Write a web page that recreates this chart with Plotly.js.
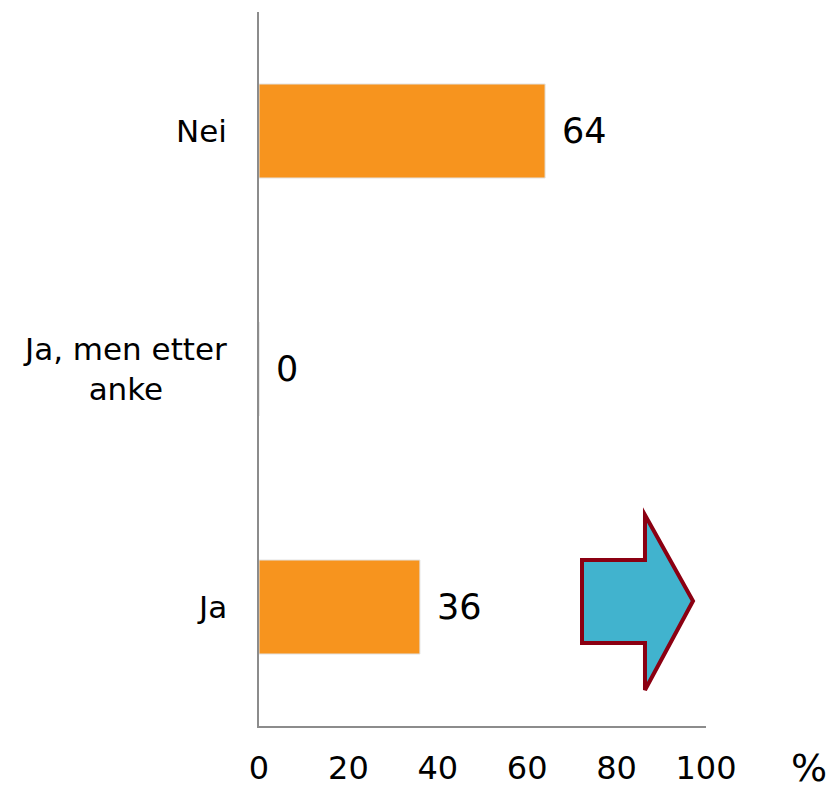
<!DOCTYPE html>
<html>
<head>
<meta charset="utf-8">
<script src="https://cdn.plot.ly/plotly-3.0.1.min.js"></script>
<style>html,body{margin:0;padding:0;background:#fff;}</style>
</head>
<body>
<div id="chart" style="width:834px;height:792px;"></div>
<script>
const categories = ["Ja", "Ja, men etter<br>anke", "Nei"];
const values = [36, 0, 64];
const xTickVals = [0, 20, 40, 60, 80, 100];
const xTickText = ["0", "20", "40", "60", "80", "100"];
const unitLabel = "%";

const W = 834, H = 792;
const L = 259, R = 128, T = 12, B = 66;
const pw = W - L - R, ph = H - T - B;
function px(x) { return (x - L) / pw; }
function py(y) { return (H - B - y) / ph; }
const arrowPts = [[582,560],[645,560],[645,515],[693,601],[645,690],[645,643],[582,643]];
const arrowPath = arrowPts.map((p, i) => (i ? 'L' : 'M') + px(p[0]).toFixed(4) + ',' + py(p[1]).toFixed(4)).join(' ') + ' Z';

const trace = {
  type: 'bar',
  orientation: 'h',
  y: categories,
  x: values,
  width: 0.395,
  marker: {color: '#F7941E', line: {color: '#e2e2e2', width: 1}},
  hoverinfo: 'none'
};

const annotations = values.map((v, i) => ({
  x: v, y: categories[i], xref: 'x', yref: 'y',
  text: String(v), showarrow: false, xanchor: 'left', xshift: 15,
  font: {family: 'DejaVu Sans', size: 35, color: '#000'}
}));
categories.forEach(c => annotations.push({
  xref: 'paper', yref: 'y', x: 0, y: c, xshift: -30,
  text: c, showarrow: false, xanchor: 'right', yanchor: 'middle', align: 'center',
  font: {family: 'DejaVu Sans', size: 31, color: '#000'}
}));
annotations.push({
  xref: 'paper', yref: 'paper', x: px(809), y: py(768),
  text: unitLabel, showarrow: false, xanchor: 'center', yanchor: 'middle',
  font: {family: 'DejaVu Sans', size: 38, color: '#000'}
});

const layout = {
  width: W, height: H,
  margin: {l: L, r: R, t: T, b: B, pad: 0},
  paper_bgcolor: '#fff', plot_bgcolor: '#fff',
  showlegend: false,
  xaxis: {
    range: [0, 100], tickvals: xTickVals, ticktext: xTickText,
    showgrid: false, zeroline: false,
    showline: true, linecolor: '#8c8c8c', linewidth: 2,
    ticks: 'outside', ticklen: 13, tickcolor: 'rgba(0,0,0,0)',
    tickfont: {family: 'DejaVu Sans', size: 32, color: '#000'},
    fixedrange: true
  },
  yaxis: {
    categoryorder: 'array', categoryarray: categories,
    range: [-0.5, 2.5],
    showgrid: false, zeroline: false,
    showline: true, linecolor: '#8c8c8c', linewidth: 2,
    showticklabels: false, ticks: '',
    fixedrange: true
  },
  annotations: annotations,
  shapes: [{
    type: 'path', xref: 'paper', yref: 'paper', path: arrowPath,
    fillcolor: '#41B3CE', line: {color: '#8B0012', width: 4}, layer: 'above'
  }]
};

Plotly.newPlot('chart', [trace], layout, {displayModeBar: false, staticPlot: true});
</script>
</body>
</html>
